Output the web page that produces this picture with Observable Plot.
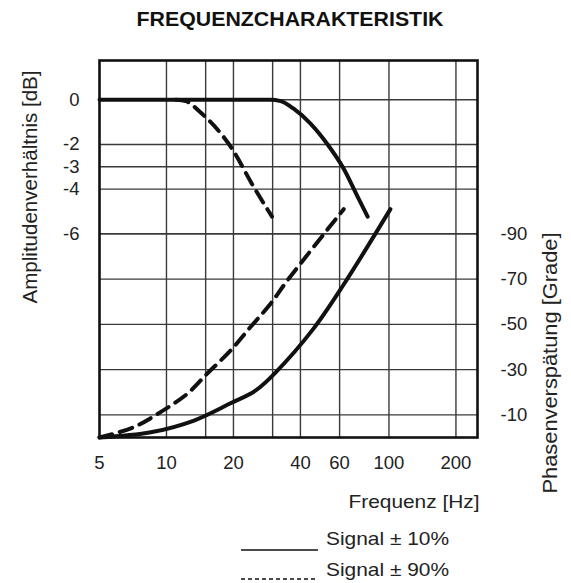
<!DOCTYPE html>
<html>
<head>
<meta charset="utf-8">
<script src="https://cdn.jsdelivr.net/npm/d3@7"></script>
<script src="https://cdn.jsdelivr.net/npm/@observablehq/plot@0.6"></script>
<style>
  body { margin: 0; background: #fff; }
  #wrap { position: relative; width: 571px; height: 583px; overflow: hidden; font-family: "Liberation Sans", Arial, sans-serif; }
  #title { position: absolute; left: 0; top: 0; }
  #chart { position: absolute; left: 0; top: 36px; }
  #legend { position: absolute; left: 0; top: 516px; }
</style>
</head>
<body>
<div id="wrap">
  <svg id="title" width="571" height="36">
    <text x="290" y="26" text-anchor="middle" font-family="Liberation Sans, Arial, sans-serif" font-weight="bold" font-size="20" fill="#111" textLength="307" lengthAdjust="spacingAndGlyphs">FREQUENZCHARAKTERISTIK</text>
  </svg>
  <div id="chart"></div>
  <svg id="legend" width="571" height="67">
    <line x1="241" x2="318" y1="34" y2="34" stroke="#111" stroke-width="1.6"/>
    <text x="326" y="29" font-family="Liberation Sans, Arial, sans-serif" font-size="18.5" fill="#222" textLength="123" lengthAdjust="spacingAndGlyphs">Signal ± 10%</text>
    <line x1="241" x2="318" y1="63" y2="63" stroke="#111" stroke-width="1.6" stroke-dasharray="4,3"/>
    <text x="326" y="60" font-family="Liberation Sans, Arial, sans-serif" font-size="18.5" fill="#222" textLength="123" lengthAdjust="spacingAndGlyphs">Signal ± 90%</text>
  </svg>
</div>
<script>
// ---- data ----
const freqTicks = [5, 10, 20, 40, 60, 100, 200];
const freqGrid = [10, 15, 20, 30, 40, 60, 100, 200];
const dbTicks = [0, -2, -3, -4, -6];
const phaseTicks = [-90, -70, -50, -30, -10];

const ampSolidF  = [5, 29.3, 32.6, 37.3, 44.4, 52.7, 62.6, 71.9, 80.2];
const ampSolidDb = [0, 0, -0.06, -0.40, -1.07, -1.97, -3.09, -4.29, -5.23];

const ampDashF  = [11.0, 12.2, 14.2, 19.4, 24.7, 29.8];
const ampDashDb = [0, -0.06, -0.56, -2.09, -3.91, -5.23];

const phaseSolidF   = [5, 8.5, 13.3, 19.4, 25.1, 30.9, 45.8, 62.5, 101.5];
const phaseSolidDeg = [0, -2.3, -7.5, -15.1, -20.7, -28.7, -48.1, -67.5, -100.9];

const phaseDashF   = [5, 7.1, 9.4, 12.4, 15.2, 19.4, 23.8, 29.3, 34.9, 62.6];
const phaseDashDeg = [0, -4.5, -11.2, -19.3, -28.1, -38.4, -48.7, -59.0, -69.3, -100.9];

const xLabel = "Frequenz [Hz]";
const yLabelLeft = "Amplitudenverhältnis [dB]";
const yLabelRight = "Phasenverspätung [Grade]";

// secondary axis: 0° at the bottom of the frame, -90° aligned with -6 dB
const dbDomain = [-15.12, 1.76];
const deg2db = d3.scaleLinear().domain([0, -90]).range([dbDomain[0], -6]);

const toRows = (xs, ys) => xs.map((x, i) => ({f: x, v: ys[i]}));
const ampSolid = toRows(ampSolidF, ampSolidDb);
const ampDash = toRows(ampDashF, ampDashDb);
const phaseSolid = toRows(phaseSolidF, phaseSolidDeg.map(deg2db));
const phaseDash = toRows(phaseDashF, phaseDashDeg.map(deg2db));

const ink = "#111";
const gridColor = "#3a3a3a";

const chart = Plot.plot({
  width: 571,
  height: 480,
  marginTop: 24,
  marginBottom: 79,
  marginLeft: 99,
  marginRight: 94,
  style: {fontFamily: "Liberation Sans, Arial, sans-serif", fontSize: "18.5px", color: "#222", background: "white", overflow: "visible"},
  x: {type: "log", domain: [5, 250]},
  y: {domain: dbDomain},
  marks: [
    Plot.ruleX(freqGrid, {stroke: gridColor, strokeWidth: 1.4}),
    Plot.ruleY(dbTicks, {stroke: gridColor, strokeWidth: 1.4}),
    Plot.ruleY(phaseTicks.map(deg2db), {stroke: gridColor, strokeWidth: 1.4}),
    Plot.frame({stroke: ink, strokeWidth: 2.6}),
    Plot.line(ampSolid, {x: "f", y: "v", curve: "monotone-x", stroke: ink, strokeWidth: 4}),
    Plot.line(ampDash, {x: "f", y: "v", curve: "monotone-x", stroke: ink, strokeWidth: 4, strokeDasharray: "13,8"}),
    Plot.line(phaseSolid, {x: "f", y: "v", curve: "catmull-rom", stroke: ink, strokeWidth: 4}),
    Plot.line(phaseDash, {x: "f", y: "v", curve: "catmull-rom", stroke: ink, strokeWidth: 4, strokeDasharray: "13,8"}),
    Plot.axisX({ticks: freqTicks, tickSize: 0, tickPadding: 18, tickFormat: d => String(d), label: null}),
    Plot.axisY({anchor: "left", ticks: dbTicks, tickSize: 0, tickPadding: 20, tickFormat: d => String(d), label: null}),
    Plot.axisY({anchor: "right", ticks: phaseTicks.map(deg2db), tickSize: 0, tickPadding: 23, textAnchor: "start",
      tickFormat: d => String(Math.round(deg2db.invert(d))), label: null}),
    Plot.text([xLabel], {frameAnchor: "bottom-right", text: d => d, textAnchor: "end", lineAnchor: "bottom", dx: 2, dy: 70, fontSize: 19, fill: "#222"}),
    Plot.text([yLabelLeft], {frameAnchor: "top-left", text: d => d, rotate: -90, textAnchor: "end", lineAnchor: "bottom", dx: -63, dy: 10, fontSize: 19.5, fill: "#222"}),
    Plot.text([yLabelRight], {frameAnchor: "top-right", text: d => d, rotate: -90, textAnchor: "end", lineAnchor: "bottom", dx: 79, dy: 172, fontSize: 19.5, fill: "#222"})
  ]
});

const lengths = {[xLabel]: 131, [yLabelLeft]: 233, [yLabelRight]: 261};
chart.querySelectorAll("text").forEach(t => {
  const L = lengths[t.textContent];
  if (L) { t.setAttribute("textLength", L); t.setAttribute("lengthAdjust", "spacingAndGlyphs"); }
});

document.getElementById("chart").appendChild(chart);
</script>
</body>
</html>
